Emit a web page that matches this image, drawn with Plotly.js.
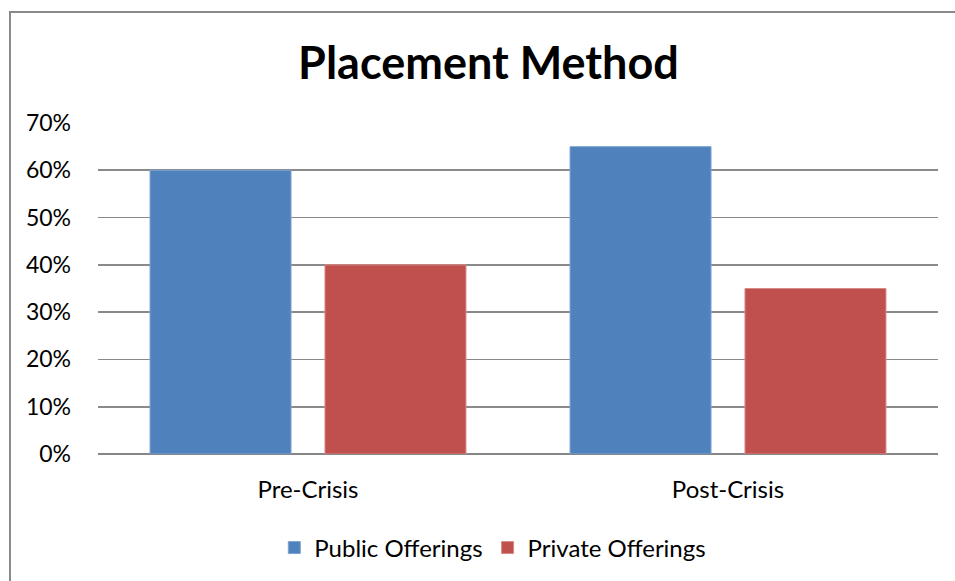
<!DOCTYPE html>
<html>
<head>
<meta charset="utf-8">
<script src="https://cdn.plot.ly/plotly-3.0.1.min.js"></script>
<style>
  html, body { margin: 0; padding: 0; background: #fff; }
  #wrap { position: relative; width: 955px; height: 581px; overflow: hidden; }
  #chart { position: absolute; left: 0; top: 0; width: 955px; height: 581px; }
  #frame { position: absolute; left: 9px; top: 11px; width: 1000px; height: 700px;
           border-left: 2px solid #8a8a8a; border-top: 2px solid #8a8a8a; pointer-events: none; }
</style>
</head>
<body>
<div id="wrap">
  <div id="chart"></div>
  <div id="frame"></div>
</div>
<script>
const categories = ["Pre-Crisis", "Post-Crisis"];
const publicOfferings = [0.60, 0.65];
const privateOfferings = [0.40, 0.35];
const yTickValues = [0, 0.1, 0.2, 0.3, 0.4, 0.5, 0.6, 0.7];
const yTickLabels = ["0%", "10%", "20%", "30%", "40%", "50%", "60%", "70%"];

const FONT = "Lato, 'Open Sans', sans-serif";

const traces = [
  { type: "bar", name: "Public Offerings", x: categories, y: publicOfferings,
    marker: { color: "#4F81BD", line: { color: "#7FA3D3", width: 1 } } },
  { type: "bar", name: "Private Offerings", x: categories, y: privateOfferings,
    marker: { color: "#C0504D", line: { color: "#D88A88", width: 1 } } }
];

const layout = {
  width: 955, height: 581,
  paper_bgcolor: "#ffffff", plot_bgcolor: "#ffffff",
  margin: { l: 98, r: 17, t: 123, b: 126 },
  font: { family: FONT, size: 23, color: "#000000" },
  title: { text: "<b>Placement Method</b>", font: { family: FONT, size: 45, color: "#000" },
           xref: "container", x: 0.5115, xanchor: "center",
           yref: "container", y: 0.8916, yanchor: "middle" },
  barmode: "group", bargap: 0.167, bargroupgap: 0.194,
  showlegend: true,
  legend: { orientation: "h", x: 0.47, xanchor: "center", y: -0.28, yanchor: "middle",
            font: { family: FONT, size: 24, color: "#000" }, traceorder: "normal" },
  xaxis: { type: "category", showgrid: false, showline: false, zeroline: false,
           ticks: "", tickfont: { family: FONT, size: 24, color: "#000" }, ticklabelstandoff: 19 },
  yaxis: { range: [0, 0.7], tickvals: yTickValues, ticktext: yTickLabels,
           showgrid: true, gridcolor: "#8a8a8a", gridwidth: 1.8,
           zeroline: true, zerolinecolor: "#868686", zerolinewidth: 2,
           showline: false, ticks: "", ticklabelstandoff: 26,
           tickfont: { family: FONT, size: 23, color: "#000" }, fixedrange: true }
};

Plotly.newPlot("chart", traces, layout, { displayModeBar: false, staticPlot: true });
</script>
</body>
</html>
